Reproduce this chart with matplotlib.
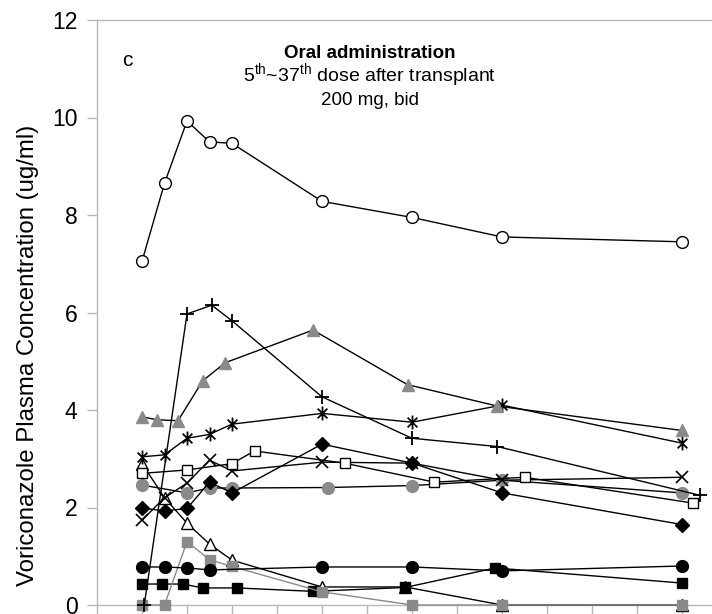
import numpy as np
import matplotlib
matplotlib.use("Agg")
import matplotlib.pyplot as plt
from matplotlib.path import Path

plt.rcParams["font.family"] = ["Liberation Sans", "DejaVu Sans"]
plt.rcParams["mathtext.fontset"] = "custom"
plt.rcParams["mathtext.rm"] = "Liberation Sans"

# hours after dose and concentrations (ug/ml)
t_open_circle = [0, 1, 2, 3, 4, 8, 12, 16, 24]
c_open_circle = [7.05, 8.65, 9.93, 9.5, 9.47, 8.28, 7.95, 7.55, 7.45]

t_plus = [0.1, 2, 3.1, 4, 8, 12, 15.8, 24.8]
c_plus = [0.0, 5.97, 6.15, 5.83, 4.27, 3.42, 3.25, 2.25]

t_gray_tri = [0, 0.67, 1.6, 2.7, 3.7, 7.6, 11.8, 15.8, 24]
c_gray_tri = [3.86, 3.8, 3.78, 4.6, 4.97, 5.64, 4.52, 4.08, 3.58]

t_star = [0, 1, 2, 3, 4, 8, 12, 16, 24]
c_star = [3.04, 3.08, 3.42, 3.5, 3.71, 3.93, 3.75, 4.1, 3.32]

t_open_sq = [0, 2, 4, 5, 9, 13, 17, 24.5]
c_open_sq = [2.7, 2.77, 2.9, 3.16, 2.91, 2.52, 2.62, 2.09]

t_cross = [0, 1, 2, 3, 4, 8, 12, 16, 24]
c_cross = [1.74, 2.2, 2.5, 2.97, 2.75, 2.93, 2.91, 2.56, 2.62]

t_diamond = [0, 1, 2, 3, 4, 8, 12, 16, 24]
c_diamond = [1.99, 1.93, 1.98, 2.52, 2.3, 3.3, 2.91, 2.3, 1.65]

t_gray_circle = [0, 2, 3, 4, 8.25, 12, 16, 24]
c_gray_circle = [2.46, 2.3, 2.4, 2.4, 2.41, 2.45, 2.56, 2.3]

t_open_tri = [0, 1, 2, 3, 4, 8, 11.7, 16, 24]
c_open_tri = [2.9, 2.2, 1.68, 1.25, 0.92, 0.37, 0.37, 0.0, 0.0]

t_black_circle = [0, 1, 2, 3, 8, 12, 16, 24]
c_black_circle = [0.78, 0.78, 0.76, 0.72, 0.78, 0.78, 0.7, 0.8]

t_black_sq = [0, 0.9, 1.8, 2.7, 4.2, 7.6, 11.7, 15.7, 24]
c_black_sq = [0.43, 0.43, 0.43, 0.35, 0.35, 0.28, 0.36, 0.76, 0.45]

t_gray_sq = [0, 1, 2, 3, 4, 8, 12, 16, 24]
c_gray_sq = [0.0, 0.0, 1.3, 0.93, 0.79, 0.27, 0.0, 0.0, 0.0]

y_ticks = [0, 2, 4, 6, 8, 10, 12]
x_ticks = list(range(-2, 27, 2))

GRAY = "#8a8a8a"
AXIS = "#b8b8b8"

# excel style star: x with a vertical bar
star = Path([(0, -1), (0, 1), (-0.7, -0.7), (0.7, 0.7), (-0.7, 0.7), (0.7, -0.7)],
            [Path.MOVETO, Path.LINETO, Path.MOVETO, Path.LINETO, Path.MOVETO, Path.LINETO])

fig = plt.figure(figsize=(7.12, 6.14), dpi=100)
ax = fig.add_axes([97 / 712, 9 / 614, 630 / 712, 585 / 614])

lw = 1.0


def draw(t, c, marker, ms, face, edge, line="black", z=3, mew=1.0):
    ax.plot(t, c, color=line, lw=lw, marker=marker, ms=ms,
            markerfacecolor=face, markeredgecolor=edge, markeredgewidth=mew,
            clip_on=False, zorder=z)


draw(t_open_tri, c_open_tri, "^", 8, "white", "black")
draw(t_black_sq, c_black_sq, "s", 7.5, "black", "black")
draw(t_gray_sq, c_gray_sq, "s", 7.5, GRAY, GRAY, line=GRAY)
draw(t_black_circle, c_black_circle, "o", 8.5, "black", "black")
draw(t_gray_circle, c_gray_circle, "o", 8.5, GRAY, GRAY)
draw(t_diamond, c_diamond, "D", 7.5, "black", "black")
draw(t_cross, c_cross, "x", 9, "none", "black", mew=1.2)
draw(t_open_sq, c_open_sq, "s", 7.5, "white", "black")
draw(t_star, c_star, star, 10, "none", "black", mew=1.3)
draw(t_gray_tri, c_gray_tri, "^", 9, GRAY, GRAY)
draw(t_plus, c_plus, "+", 10, "none", "black", mew=1.3)
draw(t_open_circle, c_open_circle, "o", 8.5, "white", "black")

ax.set_xlim(-2, 26)
ax.set_ylim(0, 12)
ax.set_yticks(y_ticks)
ax.set_xticks(x_ticks)
ax.set_xticklabels([])
ax.tick_params(axis="y", direction="out", length=7, width=1, color=AXIS,
               labelsize=16.5, pad=7)
ax.tick_params(axis="x", direction="out", length=7, width=1, color=AXIS)

for side in ["left", "bottom", "top"]:
    ax.spines[side].set_color(AXIS)
    ax.spines[side].set_linewidth(1.0)
ax.spines["right"].set_visible(False)

fig.text(28 / 712, (614 - 355) / 614,
         "Voriconazole Plasma Concentration (ug/ml)",
         rotation=90, ha="center", va="center", fontsize=17.3)

ax.text(0.0476, 0.9316, "c", transform=ax.transAxes, ha="center", va="center",
        fontsize=15)
ax.text(0.433, 0.935, "Oral administration", transform=ax.transAxes,
        ha="center", va="baseline", fontsize=13.5, fontweight="bold")
ax.text(0.433, 0.893, r"5$^{\rm th}$~37$^{\rm th}$ dose after transplant",
        transform=ax.transAxes, ha="center", va="baseline", fontsize=14)
ax.text(0.433, 0.855, "200 mg, bid", transform=ax.transAxes,
        ha="center", va="baseline", fontsize=13.5)

fig.savefig("out.png", dpi=100)
